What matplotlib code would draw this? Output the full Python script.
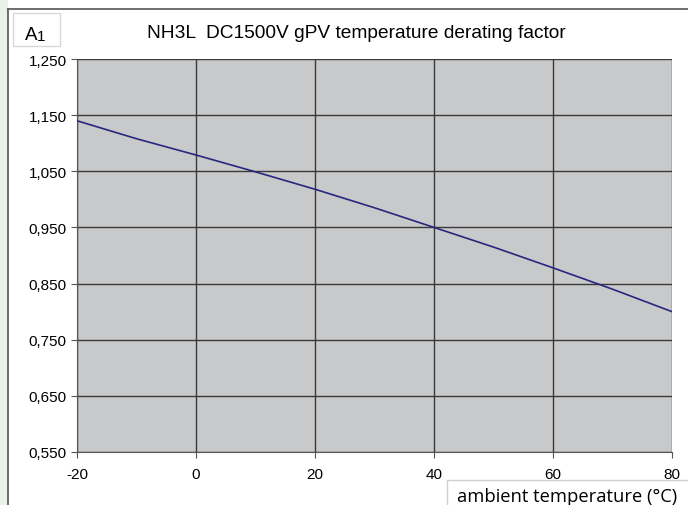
import matplotlib
matplotlib.use("Agg")
import matplotlib.pyplot as plt
from matplotlib.patches import Rectangle
from matplotlib.lines import Line2D

# ambient temperature vs. derating factor
temps = [-20, -10, 0, 10, 20, 30, 40, 50, 60, 70, 80]
factor = [1.140, 1.108, 1.079, 1.049, 1.018, 0.985, 0.950, 0.915, 0.878, 0.840, 0.800]

x_ticks = [-20, 0, 20, 40, 60, 80]
y_ticks = [0.55, 0.65, 0.75, 0.85, 0.95, 1.05, 1.15, 1.25]
y_labels = ["0,550", "0,650", "0,750", "0,850", "0,950", "1,050", "1,150", "1,250"]

plt.rcParams['font.family'] = ['Liberation Sans', 'DejaVu Sans']
plt.rcParams['axes.unicode_minus'] = False

fig = plt.figure(figsize=(6.88, 5.06), dpi=100)
fig.patch.set_facecolor("white")

# green strip on the left and the outer frame
fig.add_artist(Rectangle((0, 0), 8 / 688, 1, transform=fig.transFigure,
                         facecolor="#e9f2e9", edgecolor="none", zorder=0))
fig.add_artist(Line2D([8 / 688, 8 / 688], [0, 1 - 10 / 506], transform=fig.transFigure,
                      color="#555555", lw=1.2))
fig.add_artist(Line2D([8 / 688, 1], [1 - 10 / 506, 1 - 10 / 506], transform=fig.transFigure,
                      color="#555555", lw=1.2))

ax = fig.add_axes([77 / 688, 53 / 506, 595 / 688, 393 / 506])
ax.set_facecolor("#c8c9ca")
ax.plot(temps, factor, color="#27277f", lw=1.2, zorder=3)

ax.set_xlim(-20, 80)
ax.set_ylim(0.55, 1.25)
ax.set_xticks(x_ticks)
ax.set_yticks(y_ticks)
ax.set_yticklabels(y_labels)
ax.grid(True, color="#3a3a3a", lw=1.0)
ax.set_axisbelow(True)

for s in ["top", "right"]:
    ax.spines[s].set_visible(False)
for s in ["left", "bottom"]:
    ax.spines[s].set_color("#555555")
ax.tick_params(axis="both", direction="out", length=4, color="#555555",
               labelsize=11, labelcolor="black")
ax.tick_params(axis="x", pad=7)

fig.text(356 / 688, 1 - 33 / 506, "NH3L  DC1500V gPV temperature derating factor",
         ha="center", va="center", fontsize=13.8)

# "A1" label box
fig.add_artist(Rectangle((13 / 688, 1 - 47 / 506), 47 / 688, 33 / 506, transform=fig.transFigure,
                         facecolor="white", edgecolor="#d8d8d8", lw=1))
fig.text(25 / 688, 1 - 36 / 506, "A", ha="left", va="center", fontsize=13.5)
fig.text(36.5 / 688, 1 - 37 / 506, "1", ha="left", va="center", fontsize=11)

# axis title box
fig.add_artist(Rectangle((447 / 688, -0.01), 250 / 688, 25 / 506 + 0.01, transform=fig.transFigure,
                         facecolor="white", edgecolor="#d0d0d0", lw=1))
fig.text(457 / 688, 9 / 506, "ambient temperature (°C)", ha="left", va="center",
         fontsize=13.2, family=["Open Sans", "DejaVu Sans"])

fig.savefig("out.png", dpi=100)
